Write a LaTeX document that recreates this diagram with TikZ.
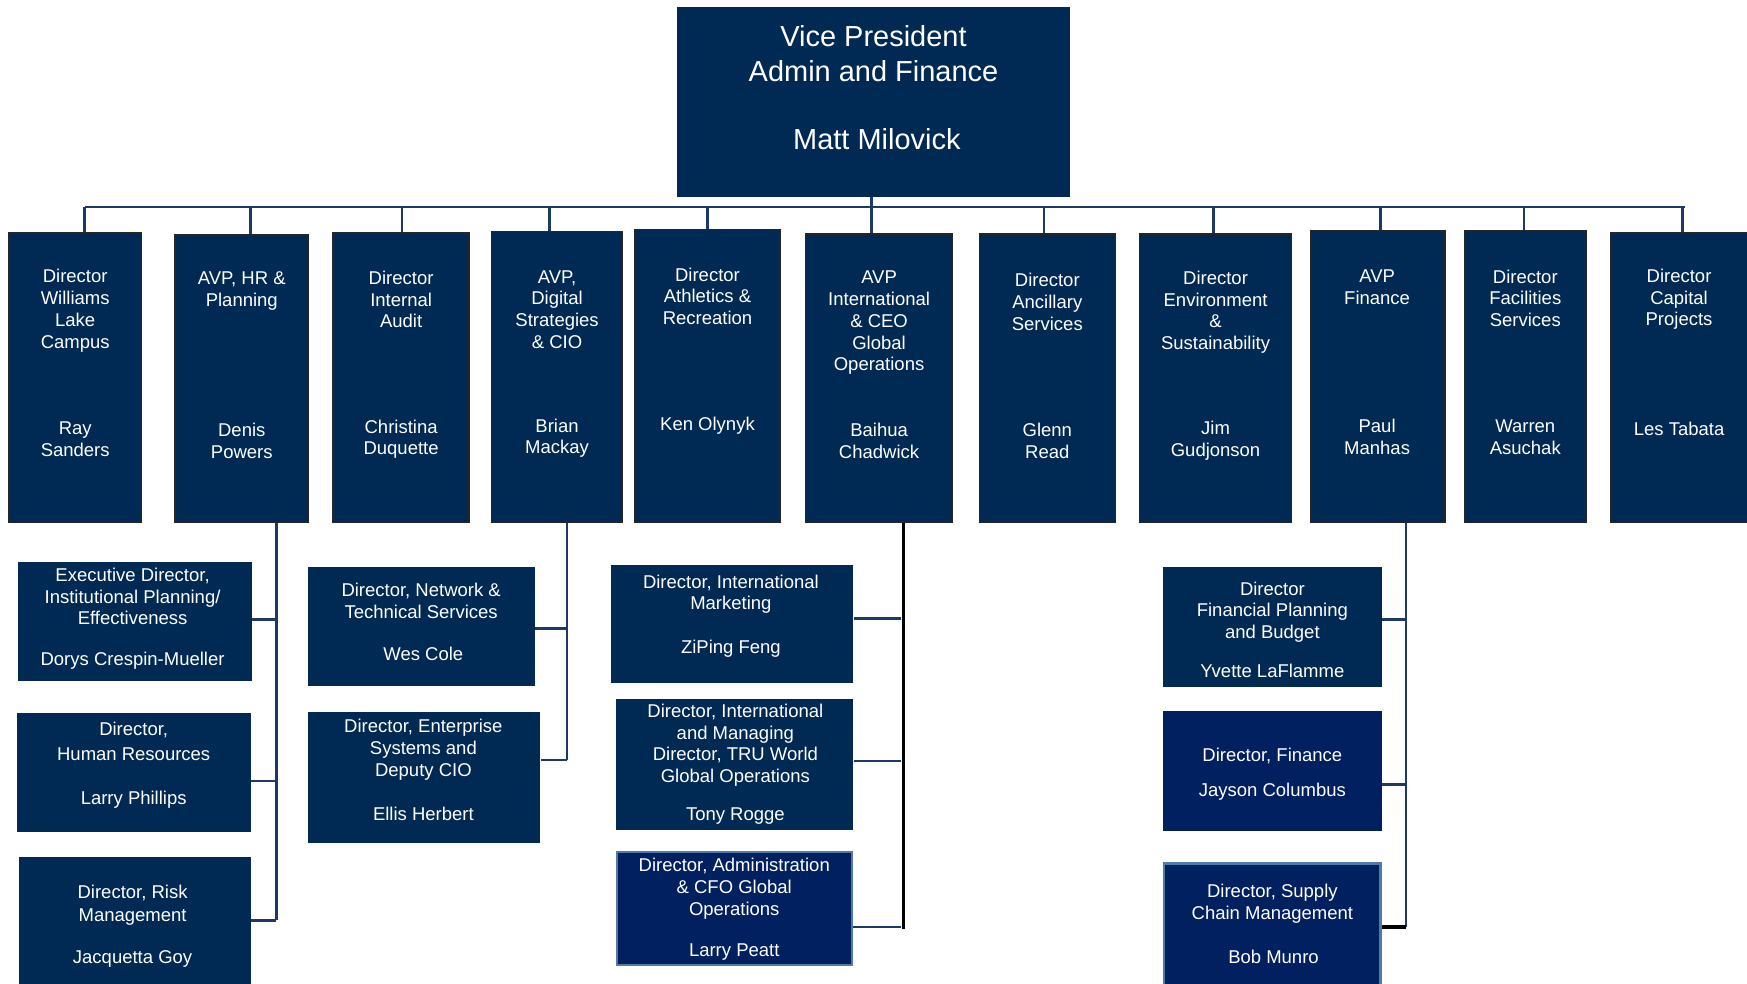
\documentclass[tikz,border=0pt]{standalone}
\usepackage{fontspec}
\setmainfont{Liberation Sans}
\definecolor{navy}{RGB}{0,42,84}
\definecolor{brightnavy}{RGB}{0,32,96}
\definecolor{lineblue}{RGB}{28,58,100}
\definecolor{lightborder}{RGB}{80,122,172}
\tikzset{
  topbox/.style={draw=black!85, line width=1.2pt, fill=navy, inner sep=0, minimum width=#1},
  subbox/.style={fill=navy, inner sep=0, minimum width=#1},
  brightbox/.style={fill=brightnavy, draw=lightborder, line width=2pt, inner sep=0, minimum width=#1},
  txt/.style={text=white, align=center, inner sep=0, yshift=-1.8pt, font=\fontsize{16.6}{19.5}\selectfont},
  bigtxt/.style={text=white, align=center, inner sep=0, yshift=-1pt, font=\fontsize{26}{31}\selectfont},
  conn/.style={draw=lineblue, line width=2.2pt},
  darkconn/.style={draw=black, line width=3pt},
}
\begin{document}
\begin{tikzpicture}[x=1pt,y=-1pt]
\useasboundingbox[fill=white] (0,0) rectangle (1568,883);

% ---------- top ----------
\node[fill=navy, inner sep=0, minimum width=352pt, minimum height=171pt] (vp) at (784,91.5) {};
\node[bigtxt] (vpt) at (784,47) {Vice President\\Admin and Finance};
\node[bigtxt] (vpn) at (787,124) {Matt Milovick};

% ---------- first row ----------
\node[topbox=119pt, minimum height=260pt] (b1) at (67.5,339) {};
\node[topbox=120pt, minimum height=258pt] (b2) at (217,340) {};
\node[topbox=122pt, minimum height=260pt] (b3) at (360,339) {};
\node[topbox=118pt, minimum height=261pt] (b4) at (500,338.5) {};
\node[topbox=130pt, minimum height=263pt] (b5) at (635,337.5) {};
\node[topbox=132pt, minimum height=259pt] (b6) at (789,339.5) {};
\node[topbox=122pt, minimum height=259pt] (b7) at (940,339.5) {};
\node[topbox=136pt, minimum height=259pt] (b8) at (1091,339.5) {};
\node[topbox=121pt, minimum height=262pt] (b9) at (1236.5,338) {};
\node[topbox=109pt, minimum height=262pt] (b10) at (1369.5,338) {};
\node[topbox=124pt, minimum height=260pt] (b11) at (1508,339) {};

\node[txt] (b1t) at (67.5,277) {Director\\Williams\\Lake\\Campus};
\node[txt] (b1n) at (67.5,392.5) {Ray\\Sanders};
\node[txt] (b2t) at (217,259.5) {AVP, HR \&\\Planning};
\node[txt] (b2n) at (217,394) {Denis\\Powers};
\node[txt] (b3t) at (360,267) {Director\\Internal\\Audit};
\node[txt] (b3n) at (360,392.5) {Christina\\Duquette};
\node[txt] (b4t) at (500,276) {AVP,\\Digital\\Strategies\\\& CIO};
\node[txt] (b4n) at (500,391.5) {Brian\\Mackay};
\node[txt] (b5t) at (635,264) {Director\\Athletics \&\\Recreation};
\node[txt] (b5n) at (635,380) {Ken Olynyk};
\node[txt] (b6t) at (789,288) {AVP\\International\\\& CEO\\Global\\Operations};
\node[txt] (b6n) at (789,394) {Baihua\\Chadwick};
\node[txt] (b7t) at (940,269) {Director\\Ancillary\\Services};
\node[txt] (b7n) at (940,394) {Glenn\\Read};
\node[txt] (b8t) at (1091,278.5) {Director\\Environment\\\&\\Sustainability};
\node[txt] (b8n) at (1091,394) {Jim\\Gudjonson};
\node[txt] (b9t) at (1236,256) {AVP\\Finance};
\node[txt] (b9n) at (1236,390.5) {Paul\\Manhas};
\node[txt] (b10t) at (1369,266) {Director\\Facilities\\Services};
\node[txt] (b10n) at (1369,390.5) {Warren\\Asuchak};
\node[txt] (b11t) at (1507,267) {Director\\Capital\\Projects};
\node[txt] (b11n) at (1507,383) {Les Tabata};

% ---------- HR subtree ----------
\node[subbox=210pt, minimum height=107pt] (e1) at (121,557.5) {};
\node[txt] (e1t) at (119,533.5) {Executive Director,\\Institutional Planning/\\Effectiveness};
\node[txt] (e1n) at (119,591) {Dorys Crespin-Mueller};
\node[subbox=210pt, minimum height=107pt] (e2) at (120,693.5) {};
\node[txt] (e2t) at (120,663.5) {Director,\\[3.5pt]Human Resources};
\node[txt] (e2n) at (120,716) {Larry Phillips};
\node[subbox=208pt, minimum height=114pt] (e3) at (121,826) {};
\node[txt] (e3t) at (119,810.5) {Director, Risk\\[1.5pt]Management};
\node[txt] (e3n) at (119,859) {Jacquetta Goy};

% ---------- Digital subtree ----------
\node[subbox=204pt, minimum height=107pt] (n1) at (378,562.5) {};
\node[txt] (n1t) at (378,537.5) {Director, Network \&\\Technical Services};
\node[txt] (n1n) at (380,585) {Wes Cole};
\node[subbox=209pt, minimum height=118pt] (n2) at (380.5,698) {};
\node[txt] (n2t) at (380,671) {Director, Enterprise\\Systems and\\Deputy CIO};
\node[txt] (n2n) at (380,729) {Ellis Herbert};

% ---------- International subtree ----------
\node[subbox=218pt, minimum height=106pt] (i1) at (657,560) {};
\node[txt] (i1t) at (656,531.5) {Director, International\\Marketing};
\node[txt] (i1n) at (656,580) {ZiPing Feng};
\node[subbox=213pt, minimum height=118pt] (i2) at (659.5,686) {};
\node[txt] (i2t) at (660,667) {Director, International\\and Managing\\Director, TRU World\\Global Operations};
\node[txt] (i2n) at (660,731) {Tony Rogge};
\node[brightbox=211pt, minimum height=101pt] (i3) at (659.5,815.5) {};
\node[txt] (i3t) at (659,796) {Director, Administration\\\& CFO Global\\Operations};
\node[txt] (i3n) at (659,853) {Larry Peatt};

% ---------- Finance subtree ----------
\node[subbox=196pt, minimum height=108pt] (f1) at (1142,563) {};
\node[txt] (f1t) at (1142,547.5) {Director\\Financial Planning\\and Budget};
\node[txt] (f1n) at (1142,600) {Yvette LaFlamme};
\node[fill=brightnavy, inner sep=0, minimum width=196pt, minimum height=108pt] (f2) at (1142,692) {};
\node[txt] (f2t) at (1142,677) {Director, Finance};
\node[txt] (f2n) at (1142,709) {Jayson Columbus};
\node[brightbox=194pt, minimum height=110pt] (f3) at (1142,830) {};
\node[txt] (f3t) at (1142,809.5) {Director, Supply\\Chain Management};
\node[txt] (f3n) at (1143,857) {Bob Munro};

% ---------- connectors: top ----------
\coordinate (busL) at (76,186);
\coordinate (busR) at (1512,186);
\coordinate (busC) at (782,186);
\draw[conn] (busL) -- (busR);
\draw[conn] (vp.south -| busC) -- (busC);
\coordinate (j1) at (76,186);
\coordinate (j2) at (225,186);
\coordinate (j3) at (361,186);
\coordinate (j4) at (493,186);
\coordinate (j5) at (635,186);
\coordinate (j6) at (782,186);
\coordinate (j7) at (937,186);
\coordinate (j8) at (1089,186);
\coordinate (j9) at (1239,186);
\coordinate (j10) at (1368,186);
\coordinate (j11) at (1510,186);
\foreach \j/\b in {j1/b1,j2/b2,j3/b3,j4/b4,j5/b5,j6/b6,j7/b7,j8/b8,j9/b9,j10/b10,j11/b11}
  \draw[conn] (\j) -- (\j |- \b.north);

% ---------- connectors: HR ----------
\coordinate (h1) at (248,556);
\coordinate (h2) at (248,701);
\coordinate (h3) at (248,826);
\draw[conn] (b2.south -| h1) -- (h3);
\draw[conn] (h1) -- (h1 -| e1.east);
\draw[conn] (h2) -- (h2 -| e2.east);
\draw[conn] (h3) -- (h3 -| e3.east);

% ---------- connectors: Digital ----------
\coordinate (d1) at (509,564);
\coordinate (d2) at (509,682);
\draw[conn] (b4.south -| d1) -- (d2);
\draw[conn] (d1) -- (d1 -| n1.east);
\draw[conn] (d2) -- (d2 -| n2.east);

% ---------- connectors: International ----------
\coordinate (g1) at (809,555);
\coordinate (g2) at (809,683);
\coordinate (g3) at (809,832);
\coordinate (gv) at (811,833.5);
\draw[conn] (g1) -- (g1 -| i1.east);
\draw[conn] (g2) -- (g2 -| i2.east);
\draw[conn] (g3) -- (g3 -| i3.east);
\draw[darkconn] (b6.south -| gv) -- (gv);

% ---------- connectors: Finance ----------
\coordinate (k1) at (1262,556);
\coordinate (k2) at (1262,704);
\coordinate (k3) at (1262,832);
\draw[conn] (b9.south -| k1) -- (k3);
\draw[conn] (k1) -- (k1 -| f1.east);
\draw[conn] (k2) -- (k2 -| f2.east);
\draw[darkconn] (k3) -- (k3 -| f3.east);
\end{tikzpicture}
\end{document}
